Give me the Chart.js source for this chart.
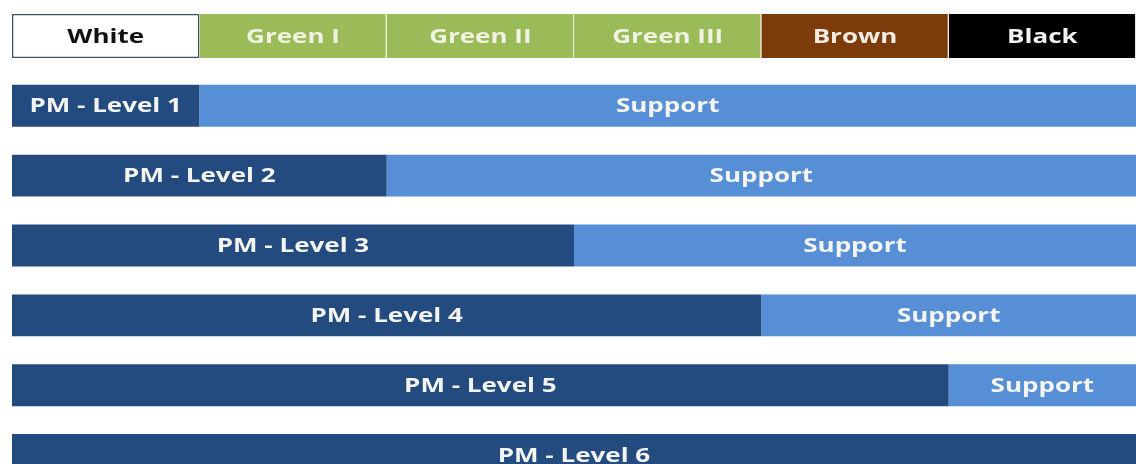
<!DOCTYPE html>
<html>
<head>
<meta charset="utf-8">
<script src="https://cdn.jsdelivr.net/npm/chart.js@4/dist/chart.umd.min.js"></script>
<style>
  html, body { margin: 0; padding: 0; background: #fff; overflow: hidden; }
  #wrap { width: 1136px; height: 490px; position: relative; }
</style>
</head>
<body>
<div id="wrap"><canvas id="belts"></canvas></div>
<script>
// rows: header belt row + 6 PM levels
var rows = ['Belts', 'PM - Level 1', 'PM - Level 2', 'PM - Level 3', 'PM - Level 4', 'PM - Level 5', 'PM - Level 6'];
var beltNames = ['White', 'Green I', 'Green II', 'Green III', 'Brown', 'Black'];
var beltColors = ['#ffffff', '#9bbb59', '#9bbb59', '#9bbb59', '#7b3b0b', '#000000'];
var beltText = ['#111111', '#f1f3e2', '#f1f3e2', '#f1f3e2', '#f3ece2', '#f2f2f2'];
var pmValues = [1, 2, 3, 4, 5, 6];
var supportValues = [5, 4, 3, 2, 1, 0];

var datasets = [];
beltNames.forEach(function (name, i) {
  datasets.push({
    label: name,
    data: [1, null, null, null, null, null, null],
    backgroundColor: beltColors[i],
    borderColor: i == 0 ? '#3f4f6b' : 'rgba(230,235,215,0.9)',
    borderWidth: i == 0 ? 1.5 : { left: 0, right: 1, top: 0, bottom: 0 },
    borderSkipped: false,
    textColor: beltText[i],
    barPercentage: 0.63,
    categoryPercentage: 1
  });
});
datasets.push({
  label: 'PM',
  data: [null].concat(pmValues),
  backgroundColor: '#234b7f',
  textColor: '#f4f4f0',
  barPercentage: 0.6,
  categoryPercentage: 1
});
datasets.push({
  label: 'Support',
  data: [null].concat(supportValues),
  backgroundColor: '#568fd6',
  textColor: '#f4f4f0',
  barPercentage: 0.6,
  categoryPercentage: 1
});

// write the text in the middle of every segment (the source text is stretched wide)
var barText = {
  id: 'barText',
  afterDatasetsDraw: function (chart) {
    var c = chart.ctx;
    chart.data.datasets.forEach(function (ds, di) {
      var meta = chart.getDatasetMeta(di);
      meta.data.forEach(function (bar, i) {
        var v = ds.data[i];
        if (!v) return;
        var txt = ds.label;
        if (ds.label == 'PM') txt = rows[i];
        c.save();
        c.font = 'bold 20px "Open Sans", sans-serif';
        c.textAlign = 'center';
        c.textBaseline = 'middle';
        c.fillStyle = ds.textColor;
        c.translate((bar.x + bar.base) / 2, bar.y + 1);
        c.scale(1.3, 1);
        c.fillText(txt, 0, 0);
        c.restore();
      });
    });
  }
};

var ctx = document.getElementById('belts');
var chart = new Chart(ctx, {
  type: 'bar',
  data: { labels: rows, datasets: datasets },
  options: {
    indexAxis: 'y',
    responsive: true,
    maintainAspectRatio: false,
    animation: false,
    layout: { padding: { left: 12, right: 0, top: 1, bottom: 0 } },
    plugins: { legend: { display: false }, tooltip: { enabled: false } },
    scales: {
      x: { stacked: true, min: 0, max: 6, display: false },
      y: { stacked: true, display: false }
    }
  },
  plugins: [barText]
});
</script>
</body>
</html>
